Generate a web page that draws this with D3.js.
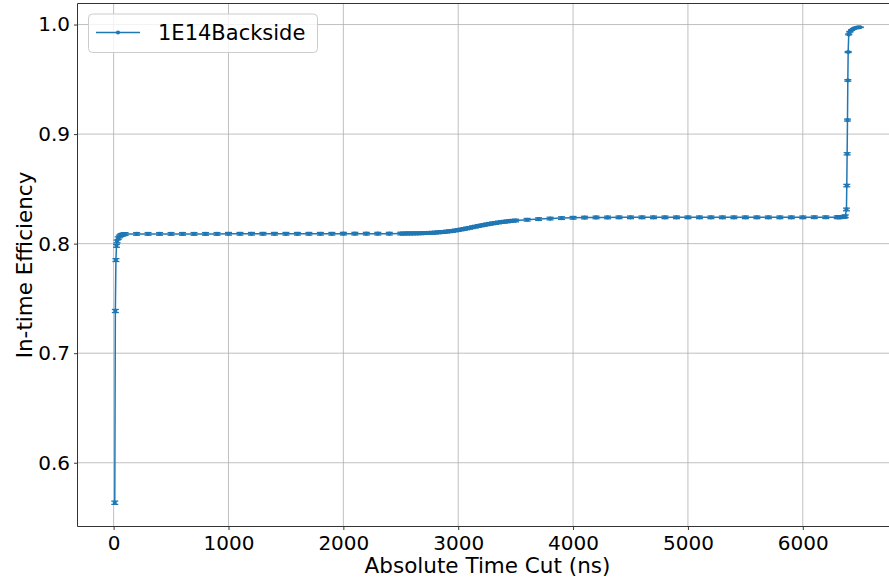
<!DOCTYPE html>
<html>
<head>
<meta charset="utf-8">
<script src="https://cdn.jsdelivr.net/npm/d3@7"></script>
<style>
  html, body { margin: 0; padding: 0; background: #fff; }
  svg { display: block; }
  text { font-family: "DejaVu Sans", sans-serif; fill: #000; }
</style>
</head>
<body>
<div id="chart"></div>
<script>
// Absolute time cut (ns) scanned for the 1E14 backside sample
const timeCuts = [
  10, 15, 20, 25, 30, 40, 50, 60, 70, 80, 90, 100,
  200, 300, 400, 500, 600, 700, 800, 900, 1000, 1100, 1200, 1300, 1400, 1500, 1600, 1700, 1800, 1900, 2000, 2100, 2200, 2300, 2400,
  2500, 2525, 2550, 2575, 2600, 2625, 2650, 2675, 2700, 2725, 2750, 2775, 2800, 2825, 2850, 2875, 2900, 2925, 2950, 2975,
  3000, 3025, 3050, 3075, 3100, 3125, 3150, 3175, 3200, 3225, 3250, 3275, 3300, 3325, 3350, 3375, 3400, 3425, 3450, 3475, 3500,
  3600, 3700, 3800, 3900, 4000, 4100, 4200, 4300, 4400, 4500, 4600, 4700, 4800, 4900, 5000, 5100, 5200, 5300, 5400, 5500, 5600, 5700, 5800, 5900, 6000, 6100, 6200,
  6300, 6310, 6320, 6330, 6340, 6350, 6360, 6370,
  6380, 6383, 6386, 6389, 6392, 6395, 6400, 6410, 6425, 6440, 6455, 6470, 6485, 6500
];

// In-time efficiency at each cut
const efficiency = [
  0.5635, 0.7385, 0.7850, 0.7980, 0.8020, 0.8050, 0.8065, 0.8075, 0.8080, 0.8083, 0.8086, 0.8088,
  0.8089, 0.8089, 0.8089, 0.8089, 0.8089, 0.8089, 0.8089, 0.8089, 0.8090, 0.8090, 0.8090, 0.8090, 0.8090, 0.8090, 0.8090, 0.8090, 0.8090, 0.8090, 0.8091, 0.8091, 0.8091, 0.8091, 0.8091,
  0.8092, 0.8092, 0.8093, 0.8093, 0.8093, 0.8094, 0.8094, 0.8095, 0.8096, 0.8097, 0.8098, 0.8099, 0.8101, 0.8103, 0.8105, 0.8107, 0.8110, 0.8113, 0.8116, 0.8120,
  0.8124, 0.8129, 0.8134, 0.8139, 0.8144, 0.8150, 0.8155, 0.8161, 0.8166, 0.8171, 0.8176, 0.8181, 0.8185, 0.8189, 0.8193, 0.8197, 0.8200, 0.8203, 0.8206, 0.8209, 0.8211,
  0.8218, 0.8224, 0.8229, 0.8233, 0.8236, 0.8238, 0.8239, 0.8239, 0.8240, 0.8240, 0.8240, 0.8240, 0.8240, 0.8240, 0.8240, 0.8240, 0.8240, 0.8240, 0.8240, 0.8240, 0.8240, 0.8240, 0.8240, 0.8240, 0.8240, 0.8241, 0.8241,
  0.8241, 0.8241, 0.8242, 0.8242, 0.8243, 0.8244, 0.8245, 0.8250,
  0.8312, 0.8530, 0.8820, 0.9128, 0.9490, 0.9749, 0.9910, 0.9934, 0.9950, 0.9962, 0.9968, 0.9972, 0.9974, 0.9975
];

// Statistical uncertainty on each efficiency value
const efficiencyErr = [
  0.0015, 0.0014, 0.0013, 0.0013, 0.0012, 0.0012, 0.0012, 0.0012, 0.0012, 0.0012, 0.0012, 0.0012,
  0.0012, 0.0012, 0.0012, 0.0012, 0.0012, 0.0012, 0.0012, 0.0012, 0.0012, 0.0012, 0.0012, 0.0012, 0.0012, 0.0012, 0.0012, 0.0012, 0.0012, 0.0012, 0.0012, 0.0012, 0.0012, 0.0012, 0.0012,
  0.0012, 0.0012, 0.0012, 0.0012, 0.0012, 0.0012, 0.0012, 0.0012, 0.0012, 0.0012, 0.0012, 0.0012, 0.0012, 0.0012, 0.0012, 0.0012, 0.0012, 0.0012, 0.0012, 0.0012,
  0.0012, 0.0012, 0.0012, 0.0012, 0.0012, 0.0012, 0.0012, 0.0012, 0.0012, 0.0012, 0.0012, 0.0012, 0.0012, 0.0012, 0.0012, 0.0012, 0.0012, 0.0012, 0.0012, 0.0012, 0.0012,
  0.0012, 0.0012, 0.0012, 0.0012, 0.0012, 0.0012, 0.0012, 0.0012, 0.0012, 0.0012, 0.0012, 0.0012, 0.0012, 0.0012, 0.0012, 0.0012, 0.0012, 0.0012, 0.0012, 0.0012, 0.0012, 0.0012, 0.0012, 0.0012, 0.0012, 0.0012, 0.0012,
  0.0012, 0.0012, 0.0012, 0.0012, 0.0012, 0.0012, 0.0012, 0.0012,
  0.0012, 0.0011, 0.0010, 0.0009, 0.0007, 0.0005, 0.0004, 0.0003, 0.0003, 0.0002, 0.0002, 0.0002, 0.0002, 0.0002
];

const seriesName = "1E14Backside";
const xTickValues = [0, 1000, 2000, 3000, 4000, 5000, 6000];
const yTickValues = [0.6, 0.7, 0.8, 0.9, 1.0];
const xLabel = "Absolute Time Cut (ns)";
const yLabel = "In-time Efficiency";

const data = timeCuts.map((t, i) => ({ t, e: efficiency[i], err: efficiencyErr[i] }));

const W = 889, H = 580;
const plot = { left: 77.5, right: 897.5, top: 3.5, bottom: 526.5 };
const color = "#1f77b4";

const x = d3.scaleLinear().domain([-314.5, 6824.5]).range([plot.left, plot.right]);
const y = d3.scaleLinear().domain([0.5418, 1.0192]).range([plot.bottom, plot.top]);

const svg = d3.select("#chart").append("svg")
  .attr("width", W).attr("height", H)
  .attr("viewBox", `0 0 ${W} ${H}`);

svg.append("rect").attr("width", W).attr("height", H).attr("fill", "#fff");

// grid
const grid = svg.append("g").attr("stroke", "#b0b0b0").attr("stroke-width", 0.8);
grid.selectAll("line.gx").data(xTickValues).join("line")
  .attr("x1", d => x(d)).attr("x2", d => x(d))
  .attr("y1", plot.top).attr("y2", plot.bottom);
grid.selectAll("line.gy").data(yTickValues).join("line")
  .attr("x1", plot.left).attr("x2", plot.right)
  .attr("y1", d => y(d)).attr("y2", d => y(d));

// axes
const xAxis = d3.axisBottom(x).tickValues(xTickValues).tickFormat(d3.format("d"))
  .tickSizeInner(3.5).tickSizeOuter(0).tickPadding(5.5);
const yAxis = d3.axisLeft(y).tickValues(yTickValues).tickFormat(d3.format(".1f"))
  .tickSizeInner(3.5).tickSizeOuter(0).tickPadding(4);

const gx = svg.append("g").attr("transform", `translate(0,${plot.bottom})`).call(xAxis);
const gy = svg.append("g").attr("transform", `translate(${plot.left},0)`).call(yAxis);
[gx, gy].forEach(g => {
  g.select(".domain").remove();
  g.selectAll(".tick line").attr("stroke", "#222").attr("stroke-width", 0.9);
  g.selectAll(".tick text").attr("font-size", 20).attr("fill", "#000")
    .attr("font-family", "DejaVu Sans, sans-serif");
});

// spines
const spines = svg.append("g").attr("stroke", "#333").attr("stroke-width", 1).attr("fill", "none");
spines.append("line").attr("x1", plot.left).attr("x2", plot.left).attr("y1", plot.top).attr("y2", plot.bottom);
spines.append("line").attr("x1", plot.left).attr("x2", plot.right).attr("y1", plot.bottom).attr("y2", plot.bottom);
spines.append("line").attr("x1", plot.left).attr("x2", plot.right).attr("y1", plot.top).attr("y2", plot.top);

// series: line, error bars with caps, point markers
const series = svg.append("g");
series.append("path").datum(data)
  .attr("fill", "none").attr("stroke", color).attr("stroke-width", 1.5)
  .attr("d", d3.line().x(d => x(d.t)).y(d => y(d.e)));

const eb = series.append("g").attr("stroke", color).attr("stroke-width", 1.3);
eb.selectAll("line.bar").data(data).join("line")
  .attr("x1", d => x(d.t)).attr("x2", d => x(d.t))
  .attr("y1", d => y(d.e - d.err)).attr("y2", d => y(d.e + d.err));
eb.selectAll("line.capLo").data(data).join("line")
  .attr("x1", d => x(d.t) - 3.5).attr("x2", d => x(d.t) + 3.5)
  .attr("y1", d => y(d.e - d.err)).attr("y2", d => y(d.e - d.err));
eb.selectAll("line.capHi").data(data).join("line")
  .attr("x1", d => x(d.t) - 3.5).attr("x2", d => x(d.t) + 3.5)
  .attr("y1", d => y(d.e + d.err)).attr("y2", d => y(d.e + d.err));

series.selectAll("circle").data(data).join("circle")
  .attr("cx", d => x(d.t)).attr("cy", d => y(d.e)).attr("r", 2.1)
  .attr("fill", color);

// axis titles
svg.append("text")
  .attr("x", (plot.left + plot.right) / 2).attr("y", 573)
  .attr("text-anchor", "middle").attr("font-size", 21.5)
  .text(xLabel);
svg.append("text")
  .attr("transform", `translate(31.5,${(plot.top + plot.bottom) / 2}) rotate(-90)`)
  .attr("text-anchor", "middle").attr("font-size", 21.5)
  .text(yLabel);

// legend
const legend = svg.append("g");
legend.append("rect")
  .attr("x", 88.5).attr("y", 14).attr("width", 229).attr("height", 38.5).attr("rx", 4)
  .attr("fill", "#fff").attr("fill-opacity", 0.8)
  .attr("stroke", "#cccccc").attr("stroke-width", 1);
legend.append("line")
  .attr("x1", 96).attr("x2", 140).attr("y1", 32.5).attr("y2", 32.5)
  .attr("stroke", color).attr("stroke-width", 1.5);
legend.append("circle").attr("cx", 118).attr("cy", 32.5).attr("r", 2.1).attr("fill", color);
legend.append("text")
  .attr("x", 158).attr("y", 40).attr("font-size", 21)
  .text(seriesName);
</script>
</body>
</html>
